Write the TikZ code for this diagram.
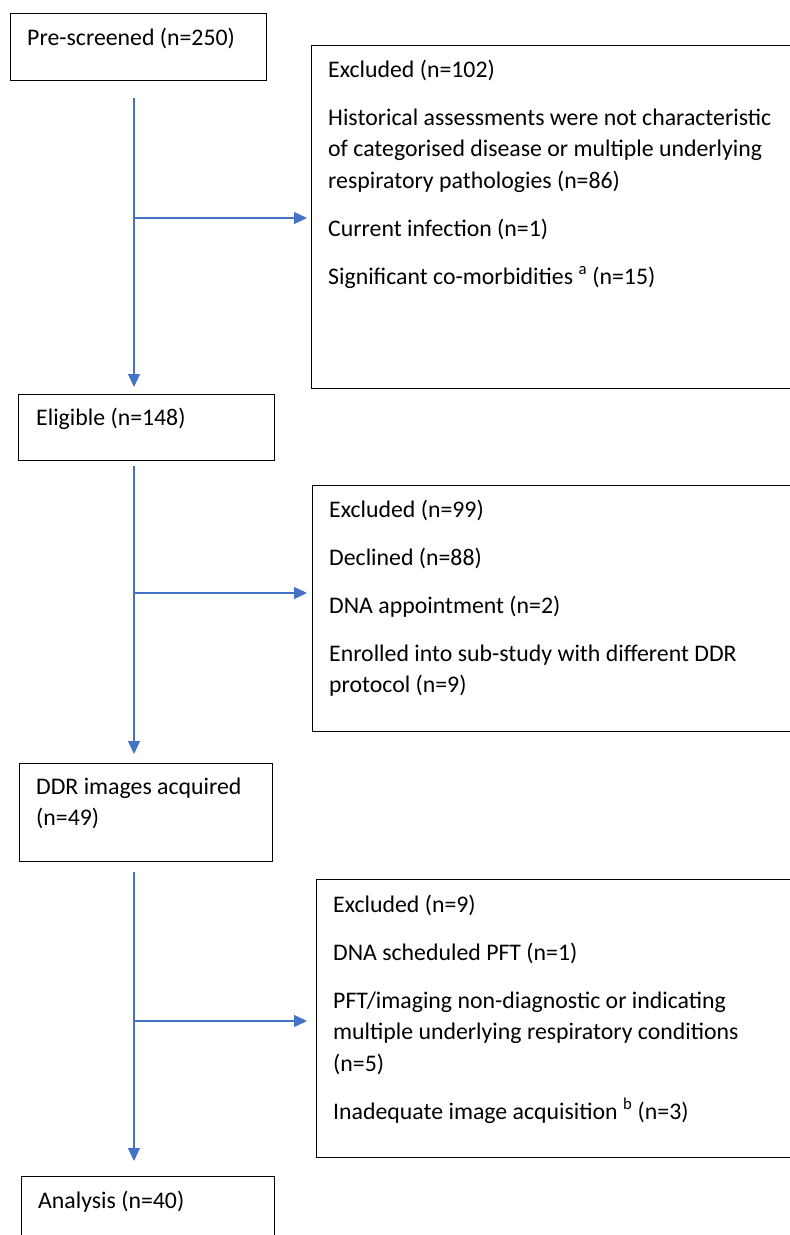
\documentclass[tikz,border=0pt]{standalone}
\usepackage{fontspec}
\setmainfont{Carlito}
\usetikzlibrary{arrows.meta,calc}
\definecolor{flowblue}{RGB}{68,114,196}
\begin{document}
\begin{tikzpicture}[x=1pt,y=-1pt,
  box/.style={draw=black, line width=1.3pt, anchor=north west, inner sep=0pt},
  txt/.style={anchor=base west, inner sep=0pt, font=\fontsize{23.8}{31.5}\selectfont},
  flow/.style={draw=flowblue, line width=1.1pt, -{Triangle[length=13pt,width=12pt]}}]
\useasboundingbox (0,0) rectangle (790,1235);
\clip (0,0) rectangle (790,1235);
\fill[white] (0,0) rectangle (790,1235);
% boxes
\node[box, minimum width=256pt, minimum height=67pt] (pre) at (10,13) {};
\node[box, minimum width=600pt, minimum height=343pt] (ex1) at (311,45) {};
\node[box, minimum width=256pt, minimum height=66pt] (elig) at (18,394) {};
\node[box, minimum width=600pt, minimum height=246pt] (ex2) at (312,485) {};
\node[box, minimum width=253pt, minimum height=98pt] (ddr) at (19,763) {};
\node[box, minimum width=600pt, minimum height=278pt] (ex3) at (316,879) {};
\node[box, minimum width=253pt, minimum height=200pt] (ana) at (21,1176) {};
% texts
\node[txt] (tpre) at (27,45) {Pre-screened (n=250)};
\node[txt] (tex1) at (328,77) {\parbox[t]{600pt}{\raggedright
  Excluded (n=102)\\[16.5pt]
  Historical assessments were not characteristic\\
  of categorised disease or multiple underlying\\
  respiratory pathologies (n=86)\\[16.5pt]
  Current infection (n=1)\\[16.5pt]
  Significant co-morbidities \textsuperscript{a} (n=15)}};
\node[txt] (telig) at (36,425) {Eligible (n=148)};
\node[txt] (tex2) at (329,517) {\parbox[t]{600pt}{\raggedright
  Excluded (n=99)\\[16.5pt]
  Declined (n=88)\\[16.5pt]
  DNA appointment (n=2)\\[16.5pt]
  Enrolled into sub-study with different DDR\\
  protocol (n=9)}};
\node[txt] (tddr) at (36,794) {\parbox[t]{300pt}{\raggedright
  DDR images acquired\\
  (n=49)}};
\node[txt] (tex3) at (333,912) {\parbox[t]{600pt}{\raggedright
  Excluded (n=9)\\[16.5pt]
  DNA scheduled PFT (n=1)\\[16.5pt]
  PFT/imaging non-diagnostic or indicating\\
  multiple underlying respiratory conditions\\
  (n=5)\\[16.5pt]
  Inadequate image acquisition \textsuperscript{b} (n=3)}};
\node[txt] (tana) at (38,1208) {Analysis (n=40)};
% connectors
\coordinate (trunk) at (134,0);
\coordinate (j1) at (134,218);
\coordinate (j2) at (134,593);
\coordinate (j3) at (134,1021);
\draw[flow, shorten <=17pt, shorten >=7pt] (pre.south -| trunk) -- (elig.north -| trunk);
\draw[flow, shorten <=5pt, shorten >=9pt] (elig.south -| trunk) -- (ddr.north -| trunk);
\draw[flow, shorten <=10pt, shorten >=15pt] (ddr.south -| trunk) -- (ana.north -| trunk);
\draw[flow, shorten >=4pt] (j1) -- (ex1.west |- j1);
\draw[flow, shorten >=5pt] (j2) -- (ex2.west |- j2);
\draw[flow, shorten >=9pt] (j3) -- (ex3.west |- j3);
\end{tikzpicture}
\end{document}
